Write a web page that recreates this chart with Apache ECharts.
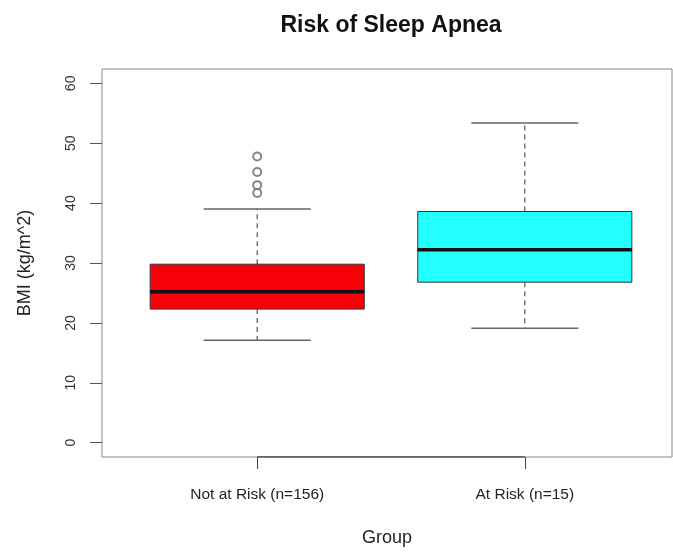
<!DOCTYPE html>
<html>
<head>
<meta charset="utf-8">
<script src="https://cdn.jsdelivr.net/npm/echarts@6/dist/echarts.min.js"></script>
<style>
  html, body { margin: 0; padding: 0; background: #fff; }
  #chart { width: 673px; height: 555px; }
</style>
</head>
<body>
<div id="chart"></div>
<script>
// Box summaries (BMI, kg/m^2)
const groups = ['Not at Risk (n=156)', 'At Risk (n=15)']
const positions = [1, 2]
const whiskerLow = [17.1, 19.1]
const q1 = [22.3, 26.8]
const medians = [25.2, 32.2]
const q3 = [29.8, 38.6]
const whiskerHigh = [39.0, 53.4]
const boxColors = ['#f80008', '#22ffff']

// Outliers of the first group
const outlierPos = [1, 1, 1, 1]
const outlierValues = [47.8, 45.2, 43.0, 41.7]

const yTicks = [0, 10, 20, 30, 40, 50, 60]
const yMin = -2.4
const yMax = 62.4

const font = '"Liberation Sans", Arial, Helvetica, sans-serif'

const chart = echarts.init(document.getElementById('chart'))

const boxData = positions.map((p, i) => [p, whiskerLow[i], q1[i], medians[i], q3[i], whiskerHigh[i]])
const outlierData = outlierPos.map((p, i) => [p, outlierValues[i]])

// draws one R-style box: dashed whiskers, staples, filled box, thick median
function renderBox(params, api) {
  const x = api.value(0)
  const pMin = api.coord([x, api.value(1)])
  const pQ1 = api.coord([x, api.value(2)])
  const pMed = api.coord([x, api.value(3)])
  const pQ3 = api.coord([x, api.value(4)])
  const pMax = api.coord([x, api.value(5)])
  const half = api.size([0.4, 0])[0]
  const cap = half / 2
  const cx = pMed[0]
  const whisker = { stroke: '#555', lineWidth: 1.2, lineDash: [5, 4] }
  const staple = { stroke: '#666', lineWidth: 1.5 }
  return {
    type: 'group',
    children: [
      { type: 'line', shape: { x1: cx, y1: pQ3[1], x2: cx, y2: pMax[1] }, style: whisker },
      { type: 'line', shape: { x1: cx, y1: pQ1[1], x2: cx, y2: pMin[1] }, style: whisker },
      { type: 'line', shape: { x1: cx - cap, y1: pMax[1], x2: cx + cap, y2: pMax[1] }, style: staple },
      { type: 'line', shape: { x1: cx - cap, y1: pMin[1], x2: cx + cap, y2: pMin[1] }, style: staple },
      {
        type: 'rect',
        shape: { x: cx - half, y: pQ3[1], width: half * 2, height: pQ1[1] - pQ3[1] },
        style: { fill: boxColors[params.dataIndex], stroke: '#333', lineWidth: 1 }
      },
      { type: 'line', shape: { x1: cx - half, y1: pMed[1], x2: cx + half, y2: pMed[1] }, style: { stroke: '#111', lineWidth: 3.5 } }
    ]
  }
}

const option = {
  animation: false,
  backgroundColor: '#fff',
  title: {
    text: 'Risk of Sleep Apnea',
    left: 386,
    textAlign: 'center',
    top: 9,
    textStyle: { fontSize: 23, fontWeight: 'bold', color: '#111', fontFamily: font }
  },
  grid: {
    left: 102,
    top: 69,
    width: 570,
    height: 388,
    show: true,
    borderColor: '#888',
    borderWidth: 1
  },
  xAxis: {
    type: 'value',
    min: 0.42,
    max: 2.55,
    name: 'Group',
    nameLocation: 'middle',
    nameGap: 72,
    nameTextStyle: { fontSize: 18, color: '#222', fontFamily: font },
    axisLine: { show: false, onZero: false },
    axisTick: { show: true, inside: false, customValues: positions, length: 12, lineStyle: { color: '#444' } },
    axisLabel: {
      customValues: positions,
      formatter: v => groups[positions.indexOf(v)],
      margin: 30,
      fontSize: 15.5,
      color: '#222',
      fontFamily: font
    },
    splitLine: { show: false }
  },
  yAxis: {
    type: 'value',
    min: yMin,
    max: yMax,
    name: 'BMI (kg/m^2)',
    nameLocation: 'middle',
    nameGap: 68,
    nameTextStyle: { fontSize: 18, color: '#222', fontFamily: font },
    axisLine: { show: false },
    axisTick: { show: true, customValues: yTicks, length: 12, lineStyle: { color: '#555' } },
    axisLabel: {
      customValues: yTicks,
      rotate: 90,
      margin: 24,
      fontSize: 14,
      color: '#333',
      fontFamily: font
    },
    splitLine: { show: false }
  },
  series: [
    {
      // axis segment between the two group ticks, as R draws it
      type: 'line',
      silent: true,
      symbol: 'none',
      lineStyle: { color: '#444', width: 1.5 },
      data: [[positions[0], yMin], [positions[positions.length - 1], yMin]]
    },
    {
      type: 'custom',
      renderItem: renderBox,
      data: boxData
    },
    {
      type: 'scatter',
      symbol: 'emptyCircle',
      symbolSize: 8,
      itemStyle: { color: '#666', borderWidth: 0.9 },
      data: outlierData
    }
  ]
}

chart.setOption(option)
window.addEventListener('resize', () => chart.resize())
</script>
</body>
</html>
